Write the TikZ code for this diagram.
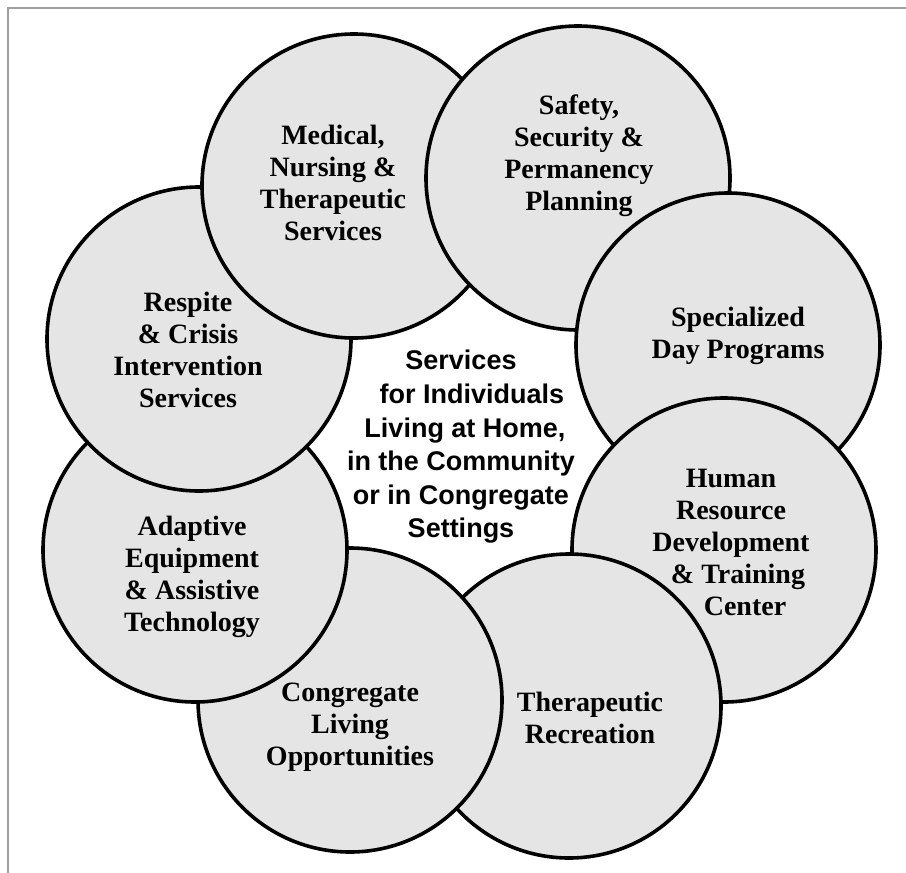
\documentclass[tikz,border=0pt]{standalone}
\usepackage{fontspec}
\setmainfont{Liberation Serif}
\setsansfont{Liberation Sans}
\definecolor{discfill}{RGB}{229,229,229}
\definecolor{framegray}{RGB}{160,160,160}
\begin{document}
\begin{tikzpicture}[x=1pt,y=-1pt,
  disc/.style={circle, draw=black, fill=discfill, line width=3.6pt,
               minimum size=304pt, inner sep=0pt},
  disctext/.style={align=center, inner sep=0pt,
                   font=\fontsize{28}{32}\selectfont\bfseries},
  hubtext/.style={align=center, inner sep=0pt,
                  font=\sffamily\bfseries\fontsize{27}{33.6}\selectfont},
  framerule/.style={draw=framegray, line width=2pt}]
\useasboundingbox (0,0) rectangle (906,873);

% page frame (top and left rules)
\coordinate (fbl) at (8,873);
\coordinate (ftl) at (8,8);
\coordinate (ftr) at (906,8);
\draw[framerule] (fbl) -- (ftl) -- (ftr);

% the ring of service discs, each lying over its predecessor
\node[disc] (medical)   at (354,186) {};
\node[disc] (safety)    at (578,178) {};
\node[disc] (dayprog)   at (728,345) {};
\node[disc] (human)     at (724,550) {};
\node[disc] (recreate)  at (569,706) {};
\node[disc] (congreg)   at (350,700) {};
\node[disc] (adaptive)  at (195,550) {};
\node[disc] (respite)   at (199,339) {};

% close the ring: the medical disc lies over the respite disc
\begin{scope}
  \clip (respite.center) circle[radius=158pt];
  \draw[fill=discfill, line width=3.6pt] (medical.center) circle[radius=152pt];
\end{scope}

% disc captions
\node[disctext] (tmedical) at (333,183)
  {Medical,\\Nursing \&\\Therapeutic\\Services};
\node[disctext] (tsafety) at (579,156)
  {Safety,\\Security \&\\Permanency\\Planning};
\node[disctext] (tdayprog) at (738,336)
  {Specialized\\Day Programs};
\node[disctext] (thuman) at (731,542)
  {Human\\Resource\\Development\\\hspace*{14pt}\& Training\\\hspace*{28pt}Center};
\node[disctext] (trecreate) at (590,718)
  {Therapeutic\\Recreation};
\node[disctext] (tcongreg) at (350,727)
  {Congregate\\Living\\Opportunities};
\node[disctext] (tadaptive) at (192,577)
  {Adaptive\\Equipment\\\& Assistive\\Technology};
\node[disctext] (trespite) at (188,350)
  {Respite\\\& Crisis\\Intervention\\Services};

% central caption
\node[hubtext] (hub) at (461,447)
  {Services\\\hspace*{22pt}for Individuals\\\hspace*{8pt}Living at Home,\\in the Community\\or in Congregate\\Settings};
\end{tikzpicture}
\end{document}
